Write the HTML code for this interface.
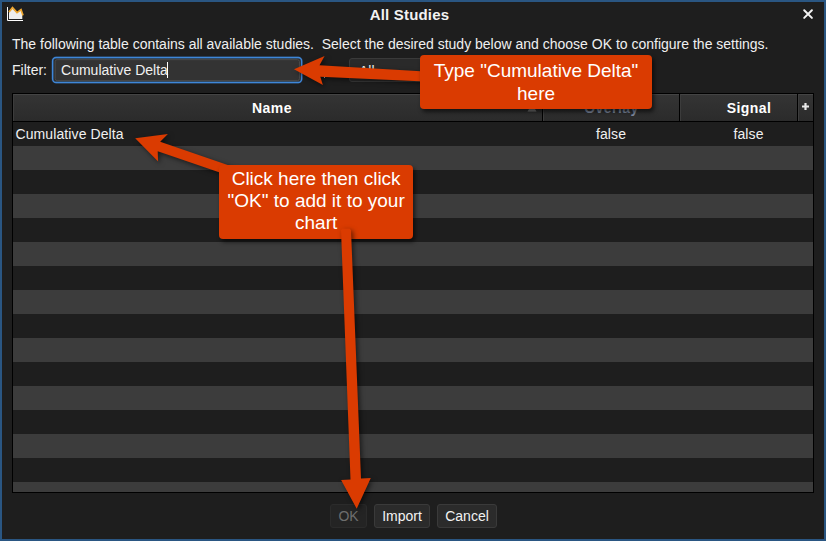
<!DOCTYPE html>
<html><head><meta charset="utf-8">
<style>
html,body{margin:0;padding:0;}
body{width:826px;height:541px;overflow:hidden;background:#1e1e1e;font-family:"Liberation Sans",sans-serif;color:#f0f0f0;position:relative;}
#win{position:absolute;left:0;top:0;width:822px;height:537px;border:2px solid #2a5682;background:#1e1e1e;}
.abs{position:absolute;white-space:pre;}
#title{left:-3.5px;width:826px;top:6px;text-align:center;font-weight:bold;font-size:15px;line-height:18px;color:#f2f2f2;letter-spacing:0.18px;}
#desc{left:12px;top:36px;font-size:14px;line-height:16px;color:#f0f0f0;}
#flabel{left:12px;top:62px;font-size:14px;line-height:16px;}
#ftext{left:61px;top:62px;font-size:14px;line-height:16px;letter-spacing:0.02px;}
#caret{left:166.5px;top:62px;width:1.2px;height:16px;background:#fff;}
#combo{left:349px;top:58px;width:120px;height:22px;border:1px solid #3a3a3a;border-radius:3px;background:#2a2a2a;}
#table{left:12px;top:93px;width:800px;height:398px;border:1px solid #000;background:#1e1e1e;overflow:hidden;}
.hd{position:absolute;top:0;height:27px;background:linear-gradient(#343434,#2b2b2b);border-top:1px solid #444;border-left:1px solid #3c3c3c;box-sizing:border-box;font-weight:bold;font-size:14px;line-height:27px;text-align:center;color:#fff;letter-spacing:0.45px;}
.sep{position:absolute;top:0;width:1px;height:27px;background:#000;}
#hline{position:absolute;left:0;top:27px;width:800px;height:1px;background:#000;}
.row{position:absolute;left:0;width:800px;height:24px;background:#3c3c3c;}
.cell{position:absolute;font-size:14px;line-height:24px;color:#f0f0f0;letter-spacing:0.1px;}
.btn{position:absolute;top:504px;height:22px;border:1px solid #3a3a3a;border-radius:3px;background:#2b2b2b;font-size:14px;line-height:22px;text-align:center;color:#f2f2f2;}
.callout{position:absolute;background:#da3b01;border-radius:4px;color:#fff;font-size:19px;line-height:22px;text-align:center;box-shadow:2px 3px 4px rgba(0,0,0,.6);}
</style></head><body>
<div id="win"></div>
<svg class="abs" style="left:0;top:0" width="40" height="30" viewBox="0 0 40 30">
<polygon points="9,12.5 12.5,8 17,13 21,10 22.3,14 22.3,19 9,19" fill="#eee"/>
<polyline points="7.5,7 7.5,20.5 23,20.5" fill="none" stroke="#fff" stroke-width="1"/>
<polyline points="9,12 12.5,7.6 17,12.6 21,9.6 23,15.4" fill="none" stroke="#f0a830" stroke-width="1.7"/>
</svg>
<div id="title" class="abs">All Studies</div>
<svg class="abs" style="left:798px;top:4px" width="20" height="20" viewBox="0 0 20 20"><path d="M6.2 6.2 L13.9 13.9 M13.9 6.2 L6.2 13.9" stroke="#f4f4f4" stroke-width="2" stroke-linecap="round"/></svg>
<div id="desc" class="abs">The following table contains all available studies.  Select the desired study below and choose OK to configure the settings.</div>
<div id="flabel" class="abs">Filter:</div>
<svg class="abs" style="left:0;top:0" width="320" height="100" viewBox="0 0 320 100">
<rect x="52.6" y="57.55" width="249.05" height="24.9" rx="3.5" fill="#2b2b2b" stroke="#3f87d8" stroke-width="1.4"/>
<rect x="52.6" y="57.55" width="249.05" height="24.9" rx="3.5" fill="none" stroke="#3f87d8" stroke-opacity=".18" stroke-width="2.6"/>
<rect x="55.15" y="59.65" width="244.3" height="21" rx="2" fill="#333" stroke="#4e4e4e" stroke-width="0.9"/>
</svg>
<div id="ftext" class="abs">Cumulative Delta</div>
<div id="caret" class="abs"></div>
<div id="combo" class="abs"></div>
<div class="abs" style="left:359px;top:62.5px;font-size:14px;line-height:16px">All</div>
<div class="abs" style="left:324px;top:74px;width:1px;height:4px;background:#ccc"></div>
<div id="table" class="abs">
  <div class="hd" style="left:0;width:529px;"><span style="position:relative;left:-6px">Name</span></div>
  <svg style="position:absolute;left:513px;top:9px" width="12" height="10" viewBox="0 0 12 10"><polygon points="1.5,8.5 6,1 10.5,8.5" fill="#777"/></svg>
  <div class="sep" style="left:529px"></div>
  <div class="hd" style="left:530px;width:136px;color:#7f8aa0">Overlay</div>
  <div class="sep" style="left:666px"></div>
  <div class="hd" style="left:667px;width:117px;"><span style="position:relative;left:10px">Signal</span></div>
  <div class="sep" style="left:784px"></div>
  <div class="hd" style="left:785px;width:15px;"><svg style="position:absolute;left:2.2px;top:7px" width="9" height="9" viewBox="0 0 9 9"><path d="M4.5 1 V8 M1 4.5 H8" stroke="#e8e8e8" stroke-width="2.2"/></svg></div>
  <div id="hline"></div>
  <div class="row" style="top:52px"></div>
  <div class="row" style="top:100px"></div>
  <div class="row" style="top:148px"></div>
  <div class="row" style="top:196px"></div>
  <div class="row" style="top:244px"></div>
  <div class="row" style="top:292px"></div>
  <div class="row" style="top:340px"></div>
  <div class="row" style="top:388px"></div>
  <div class="cell" style="left:2.5px;top:28px">Cumulative Delta</div>
  <div class="cell" style="left:530px;top:28px;width:136px;text-align:center">false</div>
  <div class="cell" style="left:677px;top:28px;width:117px;text-align:center">false</div>
</div>
<div class="btn" style="left:330px;width:35px;color:#6e6e6e;border-color:#2b2b2b;background:#242424">OK</div>
<div class="btn" style="left:374px;width:54px;">Import</div>
<div class="btn" style="left:437px;width:58px;">Cancel</div>

<svg class="abs" style="left:0;top:0;filter:drop-shadow(2px 2px 2.5px rgba(0,0,0,.55))" width="826" height="541" viewBox="0 0 826 541">
<g fill="#da3b01">
<polygon points="294,69.2 324.6,55.9 319.5,65.3 425,71.5 425,81.6 320.3,76.8 322.9,85.1"/>
<polygon points="135.2,138.2 167.9,134.1 160.2,141.8 235,167.6 230,176 157.7,151.2 158.1,161.4"/>
</g></svg>
<div class="callout" style="left:420.3px;top:54.8px;width:231.5px;height:54.7px;"><div style="padding-top:5.6px;line-height:22.5px">Type "Cumulative Delta"<br>here</div></div>
<div class="callout" style="left:218.9px;top:164.9px;width:194.5px;height:74px;"><div style="padding-top:3.2px">Click here then click<br>"OK" to add it to your<br>chart</div></div>
<svg class="abs" style="left:0;top:0;filter:drop-shadow(2px 2px 2.5px rgba(0,0,0,.55))" width="826" height="541" viewBox="0 0 826 541">
<polygon fill="#da3b01" points="356.7,508.8 341.1,480 350.5,479.4 341,230 342.5,228.5 349.5,228.5 351,230 361,478.6 370.8,478.1"/>
</svg>
</body></html>
